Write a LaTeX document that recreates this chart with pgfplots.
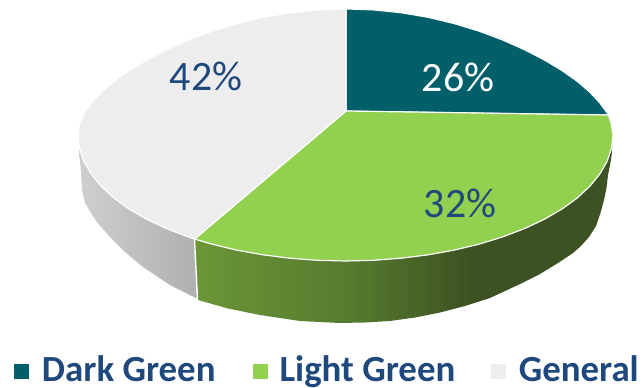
\documentclass[border=0pt]{standalone}
\usepackage{pgfplots}
\pgfplotsset{compat=1.18}
\usepackage{fontspec}
\setmainfont{Carlito}
\definecolor{darkgreen}{HTML}{005F69}
\definecolor{lightgreen}{HTML}{92D050}
\definecolor{generalgrey}{HTML}{EDEDED}
\definecolor{textblue}{HTML}{1F497D}
% Horizontal shadings for the visible rim of the disc
\pgfdeclarehorizontalshading{rimgrey}{100bp}{color(0bp)=(black!19); color(25bp)=(black!19); color(75bp)=(black!31); color(100bp)=(black!31)}
\definecolor{rimA}{HTML}{6B9637}
\definecolor{rimB}{HTML}{567A2E}
\definecolor{rimC}{HTML}{3C5222}
\pgfdeclarehorizontalshading{rimgreen}{100bp}{color(0bp)=(rimA); color(25bp)=(rimA); color(44bp)=(rimB); color(58bp)=(rimC); color(100bp)=(rimC)}
\begin{document}
\begin{tikzpicture}
\useasboundingbox (0,0) rectangle (643bp,388bp);
\begin{axis}[
  at={(0,0)}, anchor=south west,
  scale only axis, width=643bp, height=388bp,
  xmin=0, xmax=643, ymin=0, ymax=388, y dir=reverse,
  hide axis,
  legend columns=3,
  legend style={
    at={(axis cs:14,369.5)}, anchor=west, draw=none, fill=none, inner sep=0pt, outer sep=0pt,
    font=\fontsize{37}{38}\selectfont\bfseries\color{textblue},
    /tikz/column 1/.style={column sep=11bp},
    /tikz/column 2/.style={column sep=35bp},
    /tikz/column 3/.style={column sep=10bp},
    /tikz/column 4/.style={column sep=33.5bp},
    /tikz/column 5/.style={column sep=11bp},
  },
  legend cell align=left,
  legend image code/.code={\fill[#1,draw=none] (0bp,-9.5bp) rectangle (15bp,5.5bp);},
]
% Rim under the General slice
\addplot[forget plot, draw=none, shade, shading=rimgrey] coordinates {
 (194.5,239)(188.3,236.9)(166.5,228.6)(146.7,219.3)(129.1,209.1)(113.8,198)(101.1,186.2)(91.1,173.9)(83.8,161.2)(79.5,148.2)(79.5,155)
 (81,172)(82,190)(85,203)(96,221)(110,237)(125,252)(143,267)(170,285)(197,298.5)} -- cycle;
% Rim under the Light Green slice
\addplot[forget plot, draw=none, shade, shading=rimgreen] coordinates {
 (612.5,140)(611.5,148.2)(607.2,161.2)(599.9,173.9)(589.9,186.2)(577.2,198)(561.9,209.1)(544.3,219.3)(524.5,228.6)(502.7,236.9)(479.3,244.1)(454.3,250.1)(428.2,254.8)(401.1,258.2)(373.5,260.3)(345.5,261)(317.5,260.3)(289.9,258.2)(262.8,254.8)(236.7,250.1)(211.7,244.1)(194.5,239)
 (198,300)(228,308.5)(260,315)(300,321)(340,323)(365,322.5)(390,321)(415,317.5)(440,312.5)(465,306)(490,298)(520,284)(540,274)(558,263)(573,253)(581,246)(589,237)(596,226)(600.5,213)(604,200)(606.5,188)(608,175)(610,165)(611.7,155)} -- cycle;
% Separator between the two rim pieces
\addplot[forget plot, white, line width=1.4bp] coordinates {(194.5,239)(197.5,300)};
% Top faces of the slices
\addplot[fill=darkgreen, draw=white, line width=1bp, line join=round] coordinates {
 (346,111)(346,9)(373.5,10)(401.1,12.8)(428.2,17.4)(454.3,23.7)(479.3,31.3)(502.7,40.1)(524.5,49.8)(544.3,60)(561.9,70.6)(577.2,81.4)(589.9,92.3)(599.9,103.1)(608.5,115)} -- cycle;
\addplot[fill=lightgreen, draw=white, line width=1.2bp, line join=round] coordinates {
 (346,111)(608.5,115)(611.5,124.4)(613,135)(611.5,148.2)(607.2,161.2)(599.9,173.9)(589.9,186.2)(577.2,198)(561.9,209.1)(544.3,219.3)(524.5,228.6)(502.7,236.9)(479.3,244.1)(454.3,250.1)(428.2,254.8)(401.1,258.2)(373.5,260.3)(345.5,261)(317.5,260.3)(289.9,258.2)(262.8,254.8)(236.7,250.1)(211.7,244.1)(194.5,239)} -- cycle;
\addplot[fill=generalgrey, draw=white, line width=1.2bp, line join=round] coordinates {
 (346,111)(194.5,239)(188.3,236.9)(166.5,228.6)(146.7,219.3)(129.1,209.1)(113.8,198)(101.1,186.2)(91.1,173.9)(83.8,161.2)(79.5,148.2)(78,135)(79.5,124.4)(83.9,113.8)(91.1,103.1)(101.1,92.3)(113.8,81.4)(129.1,70.6)(146.7,60)(166.5,49.8)(188.3,40.1)(211.7,31.3)(236.7,23.7)(262.8,17.4)(289.9,12.8)(317.5,10)(346,9)} -- cycle;
\legend{Dark Green, Light Green, General}
% Percentage labels on the slices
\node[text=white, font=\fontsize{42}{46}\selectfont] at (axis cs:458,77.5) {26\%};
\node[text=textblue, font=\fontsize{42}{46}\selectfont] at (axis cs:460,203.5) {32\%};
\node[text=textblue, font=\fontsize{42}{46}\selectfont] at (axis cs:206,76) {42\%};
\end{axis}
\end{tikzpicture}
\end{document}
